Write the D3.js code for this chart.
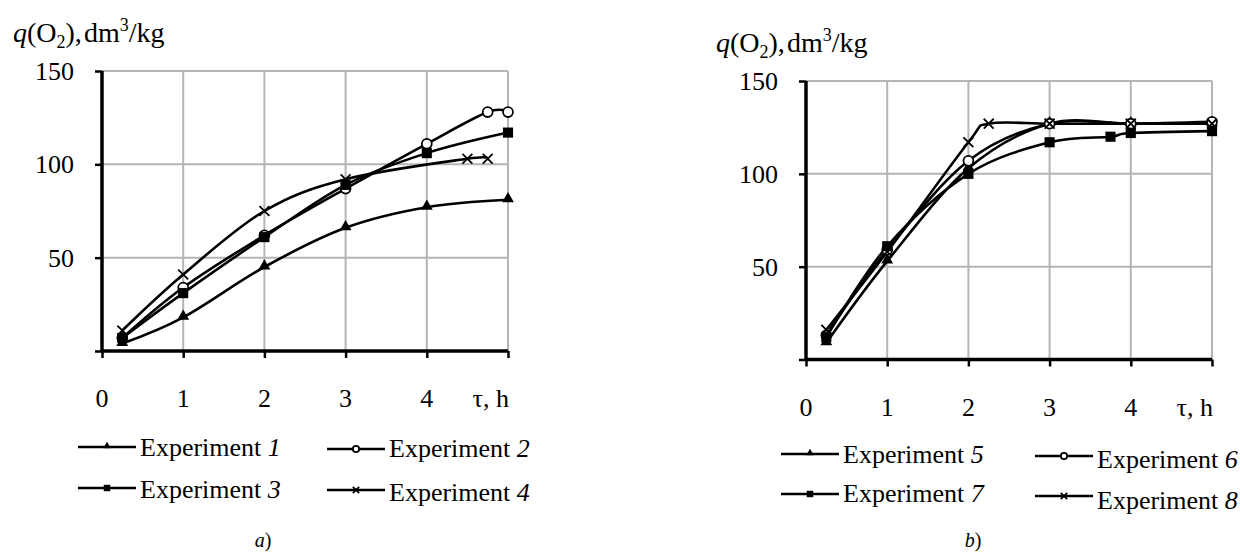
<!DOCTYPE html>
<head>
    <script src="https://d3js.org/d3.v7.min.js"></script>
    <style>
body {
  margin: 0;
  background: #fff;
}
svg text {
  font-family: "Liberation Serif", "DejaVu Serif", serif;
  fill: #000;
}
</style>
</head>
<body>
    <svg></svg>
</body>

<script>
    // tick labels shared by both panels
    var xTickLabels = [0, 1, 2, 3, 4];
    var yTickLabels = [50, 100, 150];

    // panel a) - experiments 1..4
    var exp1Time = [0.25, 1, 2, 3, 4, 5];
    var exp1Q    = [4, 18, 45, 66, 77, 81];
    var exp2Time = [0.25, 1, 2, 3, 4, 4.75, 5];
    var exp2Q    = [7, 34, 62, 87, 111, 128, 128];
    var exp3Time = [0.25, 1, 2, 3, 4, 5];
    var exp3Q    = [7, 31, 61, 89, 106, 117];
    var exp4Time = [0.25, 1, 2, 3, 4.5, 4.75];
    var exp4Q    = [11, 41, 75, 92, 103, 103];

    // panel b) - experiments 5..8
    var exp5Time = [0.25, 1, 2, 3, 4, 5];
    var exp5Q    = [9, 53, 103, 127, 127, 127];
    var exp6Time = [0.25, 1, 2, 3, 4, 5];
    var exp6Q    = [13, 59, 107, 127, 127, 128];
    var exp7Time = [0.25, 1, 2, 3, 3.75, 4, 5];
    var exp7Q    = [12, 61, 100, 117, 120, 122, 123];
    var exp8Time = [0.25, 1, 2, 2.25, 3, 4, 5];
    var exp8Q    = [16, 58, 117, 127, 127, 127, 127];

    var markers = ["triangle", "circle", "square", "cross"];

    var width = 1240, height = 552;
    var svg = d3.select("svg").attr("width", width).attr("height", height);

    function makeSeries(times, values, marker, name) {
        return { name: name, marker: marker, pts: times.map(function (t, i) { return [t, values[i]]; }) };
    }

    var panels = [
        {
            left: 102, right: 508, top: 71, bottom: 351,
            titleX: 13, titleY: 42, tickY: 407, caption: "a", captionX: 263,
            legendY: [447, 488], legendX: [78, 327], textDy: [9, 8, 10, 11],
            series: [
                makeSeries(exp1Time, exp1Q, markers[0], "1"),
                makeSeries(exp2Time, exp2Q, markers[1], "2"),
                makeSeries(exp3Time, exp3Q, markers[2], "3"),
                makeSeries(exp4Time, exp4Q, markers[3], "4")
            ]
        },
        {
            left: 806, right: 1212, top: 81, bottom: 359.5,
            titleX: 716, titleY: 52, tickY: 416, caption: "b", captionX: 973,
            legendY: [454, 494], legendX: [781, 1035], textDy: [9, 12, 8, 13],
            series: [
                makeSeries(exp5Time, exp5Q, markers[0], "5"),
                makeSeries(exp6Time, exp6Q, markers[1], "6"),
                makeSeries(exp7Time, exp7Q, markers[2], "7"),
                makeSeries(exp8Time, exp8Q, markers[3], "8")
            ]
        }
    ];

    function drawMarker(g, type, x, y, s) {
        if (type === "circle") {
            g.append("circle").attr("cx", x).attr("cy", y).attr("r", s * 0.45)
                .attr("fill", "#fff").attr("stroke", "#000").attr("stroke-width", 1.8);
        } else if (type === "cross") {
            var h = s * 0.45;
            g.append("path")
                .attr("d", "M" + (x - h) + "," + (y - h) + "L" + (x + h) + "," + (y + h) +
                           "M" + (x - h) + "," + (y + h) + "L" + (x + h) + "," + (y - h))
                .attr("stroke", "#000").attr("stroke-width", 1.8);
        } else {
            var sym = type === "triangle" ? d3.symbolTriangle : d3.symbolSquare;
            var area = type === "triangle" ? s * s * 0.5 : s * s * 0.85;
            g.append("path")
                .attr("d", d3.symbol().type(sym).size(area)())
                .attr("transform", "translate(" + x + "," + (type === "triangle" ? y - 1 : y) + ")")
                .attr("fill", "#000");
        }
    }

    panels.forEach(function (p) {
        var x = d3.scaleLinear().domain([0, 5]).range([p.left, p.right]);
        var y = d3.scaleLinear().domain([0, 150]).range([p.bottom, p.top]);
        var g = svg.append("g");

        // grid
        g.selectAll(".vgrid").data(d3.range(1, 6)).enter().append("line")
            .attr("x1", function (d) { return x(d); }).attr("x2", function (d) { return x(d); })
            .attr("y1", p.top).attr("y2", p.bottom)
            .attr("stroke", "#b5b5b5").attr("stroke-width", 2);
        g.selectAll(".hgrid").data(yTickLabels).enter().append("line")
            .attr("x1", p.left).attr("x2", p.right)
            .attr("y1", function (d) { return y(d); }).attr("y2", function (d) { return y(d); })
            .attr("stroke", "#b5b5b5").attr("stroke-width", 2);

        // axes
        var xAxis = d3.axisBottom(x).tickValues(d3.range(0, 6)).tickSize(7).tickFormat("");
        var yAxis = d3.axisLeft(y).tickValues([0].concat(yTickLabels)).tickSize(7).tickFormat("");
        g.append("g").attr("transform", "translate(0," + p.bottom + ")").call(xAxis)
            .call(function (a) {
                a.select(".domain").attr("stroke-width", 3.5).attr("d", "M" + p.left + ",0H" + p.right);
                a.selectAll(".tick line").attr("stroke-width", 2.5);
            });
        g.append("g").attr("transform", "translate(" + p.left + ",0)").call(yAxis)
            .call(function (a) {
                a.select(".domain").attr("stroke-width", 3.5).attr("d", "M0," + p.top + "V" + p.bottom);
                a.selectAll(".tick line").attr("stroke-width", 2.5);
            });

        // tick labels
        g.selectAll(".xl").data(xTickLabels).enter().append("text")
            .attr("x", function (d) { return x(d); }).attr("y", p.tickY)
            .attr("text-anchor", "middle").style("font-size", "26px").text(function (d) { return d; });
        g.append("text").attr("x", x(5) + 1).attr("y", p.tickY).attr("text-anchor", "end")
            .style("font-size", "26px").text("τ, h");
        g.selectAll(".yl").data(yTickLabels).enter().append("text")
            .attr("x", p.left - 28).attr("y", function (d) { return y(d) + 9; })
            .attr("text-anchor", "end").style("font-size", "26px").text(function (d) { return d; });

        // axis title
        var t = g.append("text").attr("x", p.titleX).attr("y", p.titleY).style("font-size", "28px");
        t.append("tspan").style("font-style", "italic").text("q");
        t.append("tspan").text("(O");
        t.append("tspan").attr("dy", 6).style("font-size", "18px").text("2");
        t.append("tspan").attr("dy", -6).text("),");
        t.append("tspan").attr("dx", 2).text("dm");
        t.append("tspan").attr("dy", -11).style("font-size", "18px").text("3");
        t.append("tspan").attr("dy", 11).text("/kg");

        // series
        var line = d3.line()
            .x(function (d) { return x(d[0]); })
            .y(function (d) { return y(d[1]); })
            .curve(d3.curveCatmullRom.alpha(0));
        p.series.forEach(function (s) {
            g.append("path").attr("d", line(s.pts)).attr("fill", "none")
                .attr("stroke", "#000").attr("stroke-width", 2.6);
        });
        p.series.forEach(function (s) {
            s.pts.forEach(function (d) { drawMarker(g, s.marker, x(d[0]), y(d[1]), 11); });
        });

        // legend
        p.series.forEach(function (s, i) {
            var lx = p.legendX[i % 2], ly = p.legendY[Math.floor(i / 2)] + (i % 2 ? 2 : 0);
            g.append("line").attr("x1", lx).attr("x2", lx + 58).attr("y1", ly).attr("y2", ly)
                .attr("stroke", "#000").attr("stroke-width", 2.6);
            drawMarker(g, s.marker, lx + 29, ly, 7);
            var tx = g.append("text").attr("x", lx + 62).attr("y", ly + p.textDy[i]).style("font-size", "26px");
            tx.append("tspan").text("Experiment ");
            tx.append("tspan").style("font-style", "italic").text(s.name);
        });

        // caption
        var c = g.append("text").attr("x", p.captionX).attr("y", 547)
            .attr("text-anchor", "middle").style("font-size", "20px");
        c.append("tspan").style("font-style", "italic").text(p.caption);
        c.append("tspan").text(")");
    });
</script>
